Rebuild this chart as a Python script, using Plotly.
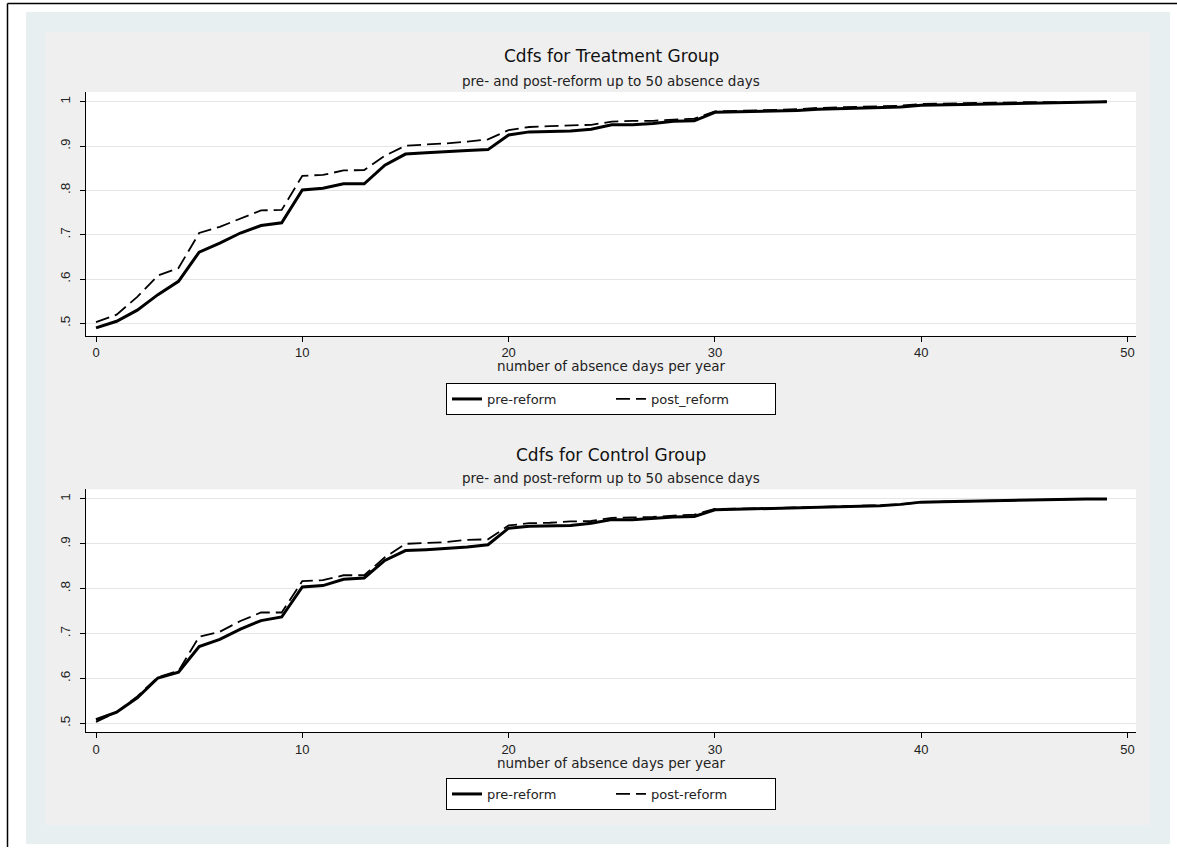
import plotly.graph_objects as go

# ---------------- data ----------------
days = list(range(0, 50))

treat_pre = [0.490, 0.505, 0.530, 0.565, 0.595, 0.661, 0.681, 0.704, 0.721, 0.727,
             0.801, 0.805, 0.815, 0.815, 0.857, 0.882, 0.885, 0.888, 0.890, 0.892,
             0.925, 0.932, 0.933, 0.934, 0.938, 0.948, 0.948, 0.951, 0.956, 0.957,
             0.976, 0.977, 0.978, 0.979, 0.980, 0.983, 0.984, 0.985, 0.986, 0.988,
             0.992, 0.993, 0.994, 0.995, 0.996, 0.997, 0.998, 0.998, 0.999, 1.000]
treat_post = [0.503, 0.520, 0.560, 0.608, 0.625, 0.704, 0.718, 0.737, 0.755, 0.756,
              0.833, 0.835, 0.845, 0.846, 0.878, 0.901, 0.903, 0.906, 0.910, 0.915,
              0.936, 0.943, 0.945, 0.946, 0.948, 0.955, 0.957, 0.957, 0.960, 0.962,
              0.978, 0.979, 0.980, 0.981, 0.983, 0.986, 0.987, 0.988, 0.989, 0.991,
              0.995, 0.996, 0.997, 0.997, 0.998, 0.999, 0.999, 0.999, 1.000, 1.000]
ctrl_pre = [0.508, 0.525, 0.557, 0.601, 0.614, 0.671, 0.687, 0.710, 0.729, 0.737,
            0.804, 0.807, 0.821, 0.824, 0.863, 0.885, 0.887, 0.890, 0.893, 0.898,
            0.935, 0.939, 0.940, 0.941, 0.946, 0.954, 0.954, 0.957, 0.960, 0.961,
            0.976, 0.977, 0.978, 0.979, 0.980, 0.982, 0.983, 0.984, 0.985, 0.988,
            0.993, 0.994, 0.995, 0.996, 0.997, 0.998, 0.999, 0.999, 1.000, 1.000]
ctrl_post = [0.503, 0.525, 0.560, 0.603, 0.617, 0.693, 0.704, 0.728, 0.747, 0.747,
             0.817, 0.819, 0.830, 0.830, 0.870, 0.900, 0.902, 0.904, 0.909, 0.910,
             0.941, 0.946, 0.947, 0.950, 0.951, 0.958, 0.959, 0.960, 0.963, 0.965,
             0.978, 0.978, 0.979, 0.980, 0.981, 0.983, 0.984, 0.985, 0.986, 0.988,
             0.993, 0.994, 0.995, 0.996, 0.997, 0.998, 0.999, 0.999, 1.000, 1.000]

x_ticks = [0, 10, 20, 30, 40, 50]
y_ticks = [0.5, 0.6, 0.7, 0.8, 0.9, 1.0]
y_ticktext = [".5", ".6", ".7", ".8", ".9", "1"]

titles = ["Cdfs for Treatment Group", "Cdfs for Control Group"]
subtitle = "pre- and post-reform up to 50 absence days"
x_title = "number of absence days per year"
legend_names = [("pre-reform", "post_reform"), ("pre-reform", "post-reform")]

# ---------------- layout helpers ----------------
W, H = 1177, 848
FONT_TXT = "DejaVu Sans, Verdana, sans-serif"
FONT_NUM = "Liberation Sans, Arial, sans-serif"


def px(x):
    return x / W


def py(y):
    return 1 - y / H


fig = go.Figure()

panels = [
    dict(pre=treat_pre, post=treat_post, top=92, bottom=335.7, yr=[0.4725, 1.0219],
         title_y=56, sub_y=81, xt_y=366, leg_y=383, names=legend_names[0], title=titles[0]),
    dict(pre=ctrl_pre, post=ctrl_post, top=489.3, bottom=732.3, yr=[0.480, 1.0216],
         title_y=455, sub_y=478, xt_y=763, leg_y=778, names=legend_names[1], title=titles[1]),
]

plot_left, plot_right = 86, 1136
x_range = [-0.485, 50.41]

shapes = [
    dict(type="rect", xref="paper", yref="paper", x0=px(26), x1=px(1170), y0=py(844), y1=py(12),
         fillcolor="#e8eff1", line=dict(width=0), layer="below"),
    dict(type="rect", xref="paper", yref="paper", x0=px(45), x1=px(1150), y0=py(825), y1=py(32),
         fillcolor="#efefef", line=dict(width=0), layer="below"),
    dict(type="line", xref="paper", yref="paper", x0=px(7.5), x1=px(7.5), y0=py(847), y1=py(3.5),
         line=dict(color="black", width=1.5)),
    dict(type="line", xref="paper", yref="paper", x0=px(7.5), x1=px(1177), y0=py(3.5), y1=py(3.5),
         line=dict(color="black", width=1.5)),
]

annotations = []

for i, p in enumerate(panels, start=1):
    xa = "x" if i == 1 else f"x{i}"
    ya = "y" if i == 1 else f"y{i}"
    leg = "legend" if i == 1 else f"legend{i}"
    fig.add_trace(go.Scatter(x=days, y=p["pre"], mode="lines", name=p["names"][0],
                             line=dict(color="black", width=3), xaxis=xa, yaxis=ya, legend=leg))
    fig.add_trace(go.Scatter(x=days, y=p["post"], mode="lines", name=p["names"][1],
                             line=dict(color="black", width=1.8, dash="14px,6px"),
                             xaxis=xa, yaxis=ya, legend=leg))

    shapes.append(dict(type="rect", xref="paper", yref="paper", x0=px(plot_left), x1=px(plot_right),
                       y0=py(p["bottom"]), y1=py(p["top"]), fillcolor="white",
                       line=dict(width=0), layer="below"))

    xkey = "xaxis" if i == 1 else f"xaxis{i}"
    ykey = "yaxis" if i == 1 else f"yaxis{i}"
    fig.layout[xkey] = dict(
        domain=[px(plot_left), px(plot_right)], anchor=ya, range=x_range,
        tickvals=x_ticks, ticks="outside", ticklen=5, tickcolor="black", tickwidth=1,
        showline=True, linecolor="black", linewidth=1, showgrid=False, zeroline=False,
        tickfont=dict(family=FONT_NUM, size=13, color="#222"),
    )
    fig.layout[ykey] = dict(
        domain=[py(p["bottom"]), py(p["top"])], anchor=xa, range=p["yr"],
        tickvals=y_ticks, ticktext=y_ticktext, tickangle=-90,
        ticks="outside", ticklen=5, tickcolor="black", tickwidth=1,
        ticklabelstandoff=5,
        showline=True, linecolor="black", linewidth=1,
        showgrid=True, gridcolor="#e6e6e6", gridwidth=1, zeroline=False,
        tickfont=dict(family=FONT_NUM, size=13.5, color="#222"),
    )

    cx = px((plot_left + plot_right) / 2)
    annotations += [
        dict(text=p["title"], x=cx, y=py(p["title_y"]), xref="paper", yref="paper",
             showarrow=False, xanchor="center", yanchor="middle",
             font=dict(family=FONT_TXT, size=17, color="#111")),
        dict(text=subtitle, x=cx, y=py(p["sub_y"]), xref="paper", yref="paper",
             showarrow=False, xanchor="center", yanchor="middle",
             font=dict(family=FONT_TXT, size=13.5, color="#222")),
        dict(text=x_title, x=cx, y=py(p["xt_y"]), xref="paper", yref="paper",
             showarrow=False, xanchor="center", yanchor="middle",
             font=dict(family=FONT_TXT, size=13.5, color="#222")),
    ]

    fig.layout[leg] = dict(
        x=cx, xanchor="center", y=py(p["leg_y"]), yanchor="top",
        orientation="h", bgcolor="white", bordercolor="black", borderwidth=1,
        font=dict(family=FONT_TXT, size=13, color="#222"),
        entrywidth=119, entrywidthmode="pixels",
        tracegroupgap=0,
    )

fig.update_layout(
    width=W, height=H, margin=dict(l=0, r=0, t=0, b=0),
    paper_bgcolor="white", plot_bgcolor="rgba(0,0,0,0)",
    shapes=shapes, annotations=annotations, showlegend=True,
)

fig.write_html(
    "out.html",
    config={"displayModeBar": False},
    post_script="document.body.style.margin='0';document.body.style.overflow='hidden';",
)
